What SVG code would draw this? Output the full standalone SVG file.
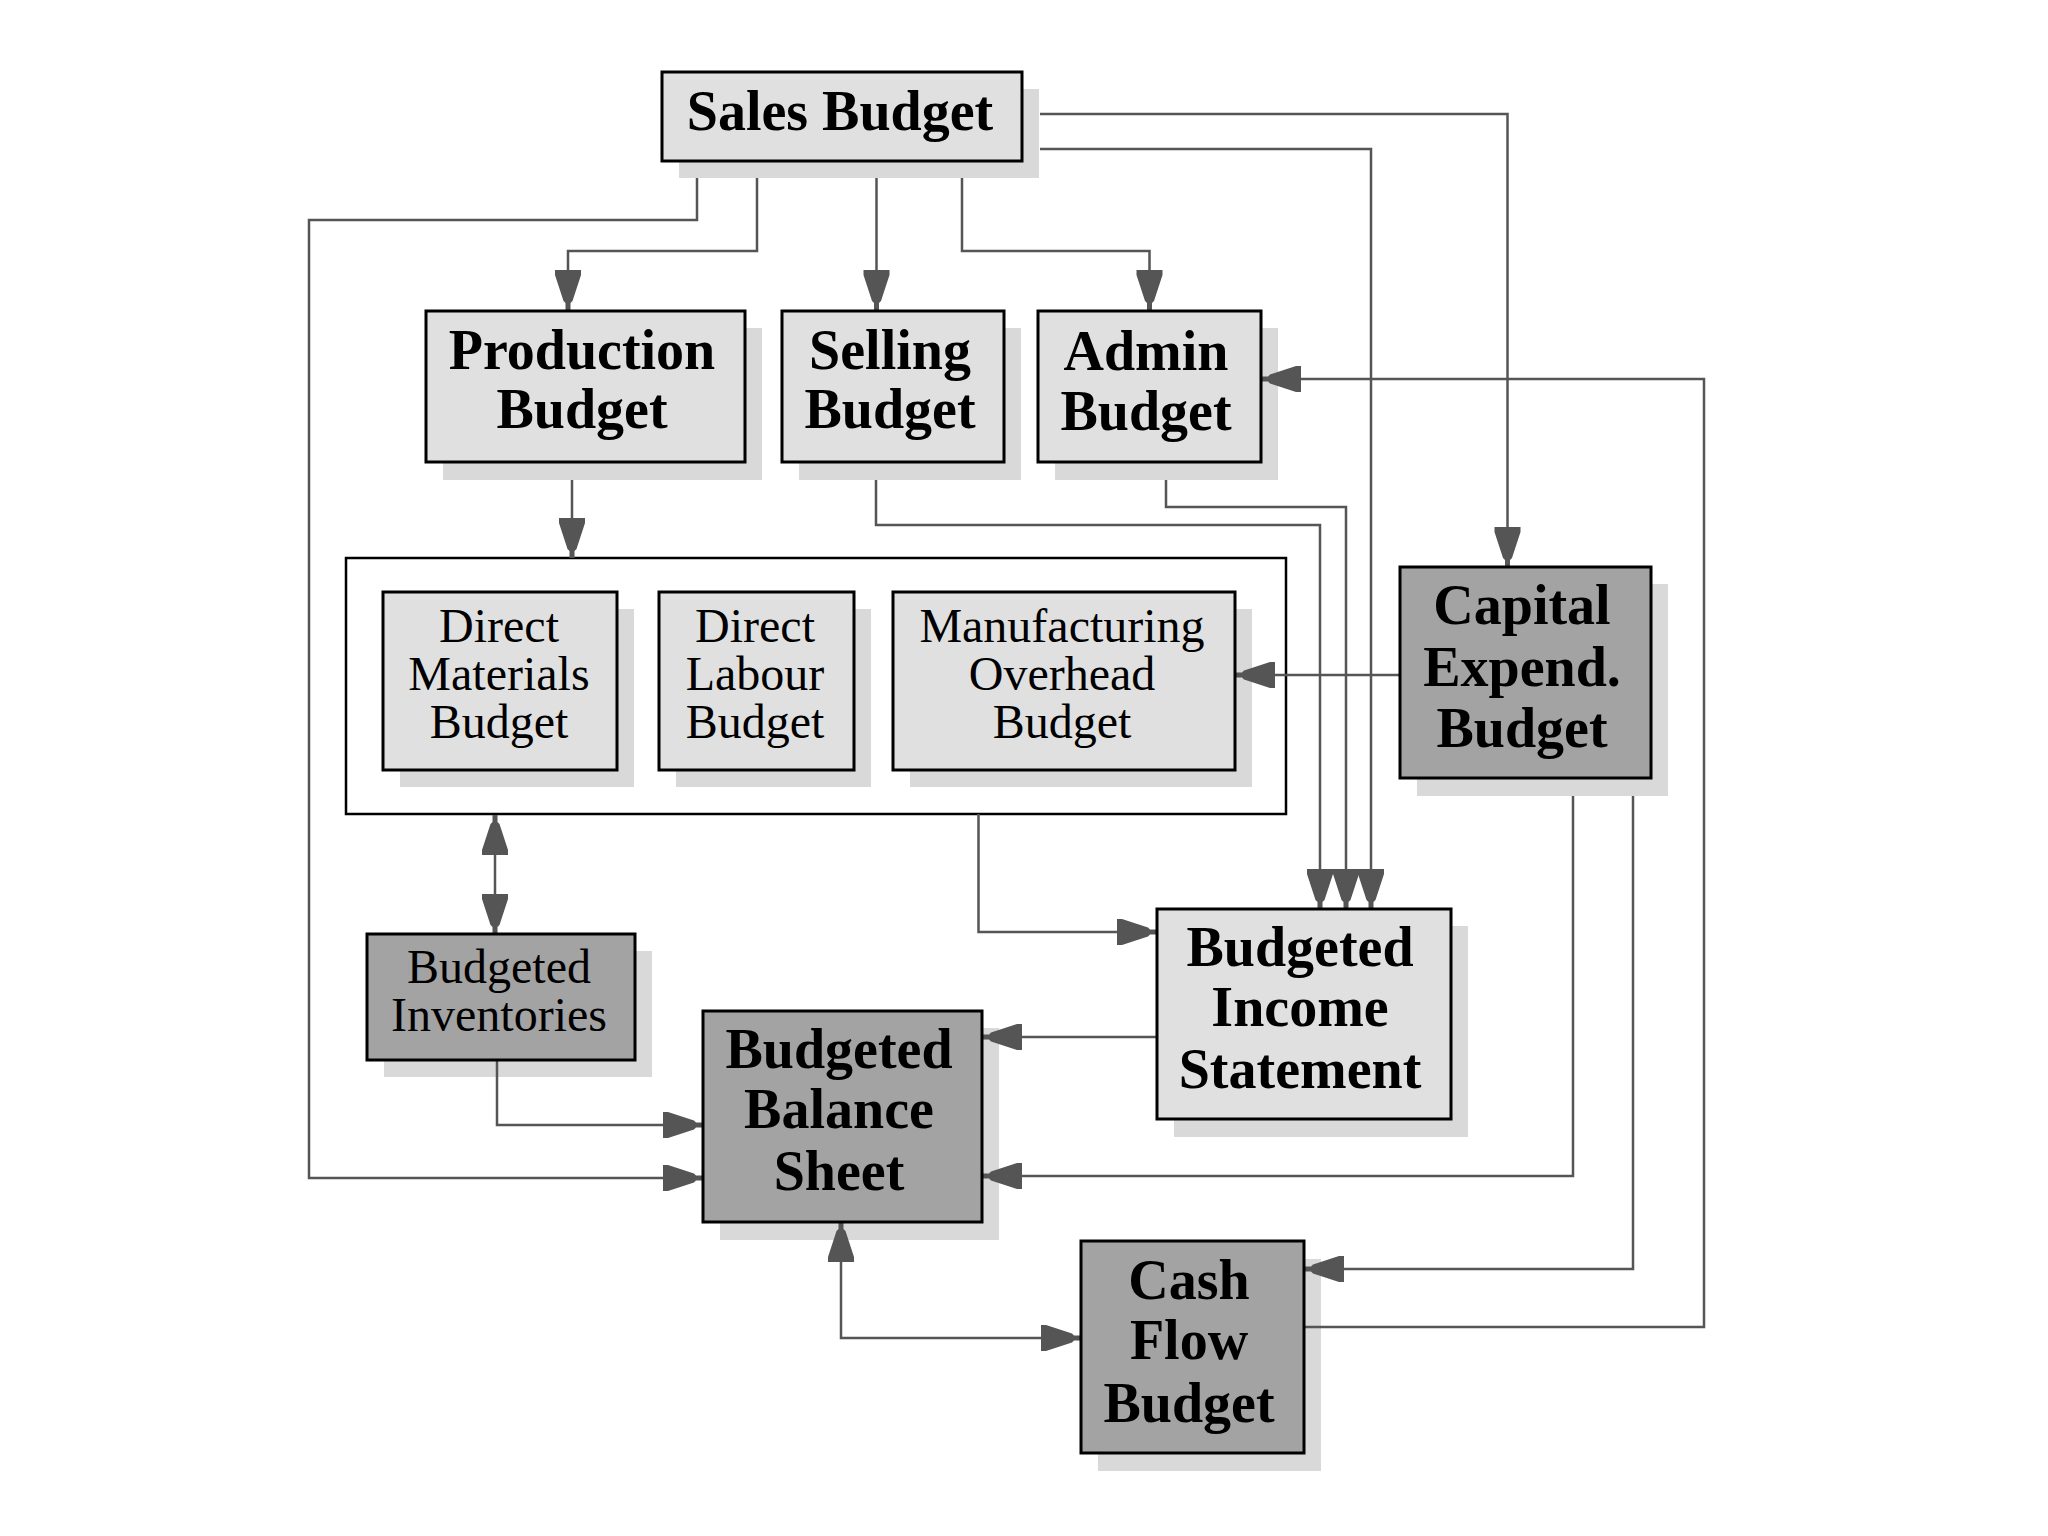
<svg xmlns="http://www.w3.org/2000/svg" width="2048" height="1536" viewBox="0 0 2048 1536">
<defs>
<style>
.shadow{fill:#d9d9d9;stroke:none}
.light{fill:#e0e0e0;stroke:#000;stroke-width:3}
.dark{fill:#a3a3a3;stroke:#000;stroke-width:3}
.container{fill:#fff;stroke:#000;stroke-width:2.5}
.conn{fill:none;stroke:#555;stroke-width:2.5}
.tb{font-family:"Liberation Serif","Times New Roman",serif;font-weight:bold;font-size:56px;fill:#000;text-anchor:middle}
.tn{font-family:"Liberation Serif","Times New Roman",serif;font-weight:normal;font-size:48px;fill:#000;text-anchor:middle}
</style>
<marker id="arr" viewBox="-42 -14 44 28" refX="0" refY="0" markerWidth="44" markerHeight="28" markerUnits="userSpaceOnUse" orient="auto">
<polygon points="0,-2.5 -7,-2.5 -9,-4.5 -35,-13 -40,-13 -40,13 -35,13 -9,4.5 -7,2.5 0,2.5" fill="#555"/>
</marker>
<marker id="arrs" viewBox="-42 -14 44 28" refX="0" refY="0" markerWidth="44" markerHeight="28" markerUnits="userSpaceOnUse" orient="auto-start-reverse">
<polygon points="0,-2.5 -7,-2.5 -9,-4.5 -35,-13 -40,-13 -40,13 -35,13 -9,4.5 -7,2.5 0,2.5" fill="#555"/>
</marker>
</defs>
<rect width="2048" height="1536" fill="#fff"/>

<g id="shadows">
<rect class="shadow" x="679" y="89" width="360" height="89"/>
<rect class="shadow" x="443" y="328" width="319" height="152"/>
<rect class="shadow" x="799" y="328" width="222" height="152"/>
<rect class="shadow" x="1055" y="328" width="223" height="152"/>
<rect class="shadow" x="1417" y="584" width="251" height="212"/>
<rect class="shadow" x="1174" y="926" width="294" height="211"/>
<rect class="shadow" x="384" y="951" width="268" height="126"/>
<rect class="shadow" x="720" y="1028" width="279" height="212"/>
<rect class="shadow" x="1098" y="1259" width="223" height="212"/>
</g>

<g id="container">
<rect class="container" x="346" y="558" width="940" height="256"/>
</g>

<g id="inner-shadows">
<rect class="shadow" x="400" y="609" width="234" height="178"/>
<rect class="shadow" x="676" y="609" width="195" height="178"/>
<rect class="shadow" x="910" y="609" width="342" height="178"/>
</g>

<g id="connectors">
<path class="conn" d="M697,178 V220 H309 V1178 H703" marker-end="url(#arr)"/>
<path class="conn" d="M757,178 V251 H568 V310" marker-end="url(#arr)"/>
<path class="conn" d="M876.5,178 V310" marker-end="url(#arr)"/>
<path class="conn" d="M962,178 V251 H1149.5 V310" marker-end="url(#arr)"/>
<path class="conn" d="M1040,114 H1507.5 V567" marker-end="url(#arr)"/>
<path class="conn" d="M1040,149 H1371 V909" marker-end="url(#arr)"/>
<path class="conn" d="M1166,480 V507 H1346 V909" marker-end="url(#arr)"/>
<path class="conn" d="M876,480 V525 H1320 V909" marker-end="url(#arr)"/>
<path class="conn" d="M572,480 V558" marker-end="url(#arr)"/>
<path class="conn" d="M1400,675 H1235" marker-end="url(#arr)"/>
<path class="conn" d="M978.5,814 V932 H1157" marker-end="url(#arr)"/>
<path class="conn" d="M495,815 V934" marker-start="url(#arrs)" marker-end="url(#arr)"/>
<path class="conn" d="M497,1060 V1125 H703" marker-end="url(#arr)"/>
<path class="conn" d="M1157,1037 H982" marker-end="url(#arr)"/>
<path class="conn" d="M1573,796 V1176 H982" marker-end="url(#arr)"/>
<path class="conn" d="M1633,796 V1269 H1304" marker-end="url(#arr)"/>
<path class="conn" d="M1304,1327 H1704 V379 H1261" marker-end="url(#arr)"/>
<path class="conn" d="M841,1222 V1338 H1081" marker-start="url(#arrs)" marker-end="url(#arr)"/>
</g>

<g id="sales-budget">
<rect class="light" x="662" y="72" width="360" height="89"/>
<text class="tb" x="840" y="130">Sales Budget</text>
</g>
<g id="production-budget">
<rect class="light" x="426" y="311" width="319" height="151"/>
<text class="tb" x="582" y="369">Production</text>
<text class="tb" x="582" y="428">Budget</text>
</g>
<g id="selling-budget">
<rect class="light" x="782" y="311" width="222" height="151"/>
<text class="tb" x="890" y="369">Selling</text>
<text class="tb" x="890" y="428">Budget</text>
</g>
<g id="admin-budget">
<rect class="light" x="1038" y="311" width="223" height="151"/>
<text class="tb" x="1146" y="370">Admin</text>
<text class="tb" x="1146" y="430">Budget</text>
</g>
<g id="direct-materials-budget">
<rect class="light" x="383" y="592" width="234" height="178"/>
<text class="tn" x="499" y="642">Direct</text>
<text class="tn" x="499" y="690">Materials</text>
<text class="tn" x="499" y="738">Budget</text>
</g>
<g id="direct-labour-budget">
<rect class="light" x="659" y="592" width="195" height="178"/>
<text class="tn" x="755" y="642">Direct</text>
<text class="tn" x="755" y="690">Labour</text>
<text class="tn" x="755" y="738">Budget</text>
</g>
<g id="manufacturing-overhead-budget">
<rect class="light" x="893" y="592" width="342" height="178"/>
<text class="tn" x="1062" y="642">Manufacturing</text>
<text class="tn" x="1062" y="690">Overhead</text>
<text class="tn" x="1062" y="738">Budget</text>
</g>
<g id="capital-expend-budget">
<rect class="dark" x="1400" y="567" width="251" height="211"/>
<text class="tb" x="1522" y="624">Capital</text>
<text class="tb" x="1522" y="686">Expend.</text>
<text class="tb" x="1522" y="747">Budget</text>
</g>
<g id="budgeted-income-statement">
<rect class="light" x="1157" y="909" width="294" height="210"/>
<text class="tb" x="1300" y="966">Budgeted</text>
<text class="tb" x="1300" y="1026">Income</text>
<text class="tb" x="1300" y="1088">Statement</text>
</g>
<g id="budgeted-inventories">
<rect class="dark" x="367" y="934" width="268" height="126"/>
<text class="tn" x="499" y="983">Budgeted</text>
<text class="tn" x="499" y="1031">Inventories</text>
</g>
<g id="budgeted-balance-sheet">
<rect class="dark" x="703" y="1011" width="279" height="211"/>
<text class="tb" x="839" y="1068">Budgeted</text>
<text class="tb" x="839" y="1128">Balance</text>
<text class="tb" x="839" y="1190">Sheet</text>
</g>
<g id="cash-flow-budget">
<rect class="dark" x="1081" y="1241" width="223" height="212"/>
<text class="tb" x="1189" y="1299">Cash</text>
<text class="tb" x="1189" y="1359">Flow</text>
<text class="tb" x="1189" y="1422">Budget</text>
</g>
</svg>
